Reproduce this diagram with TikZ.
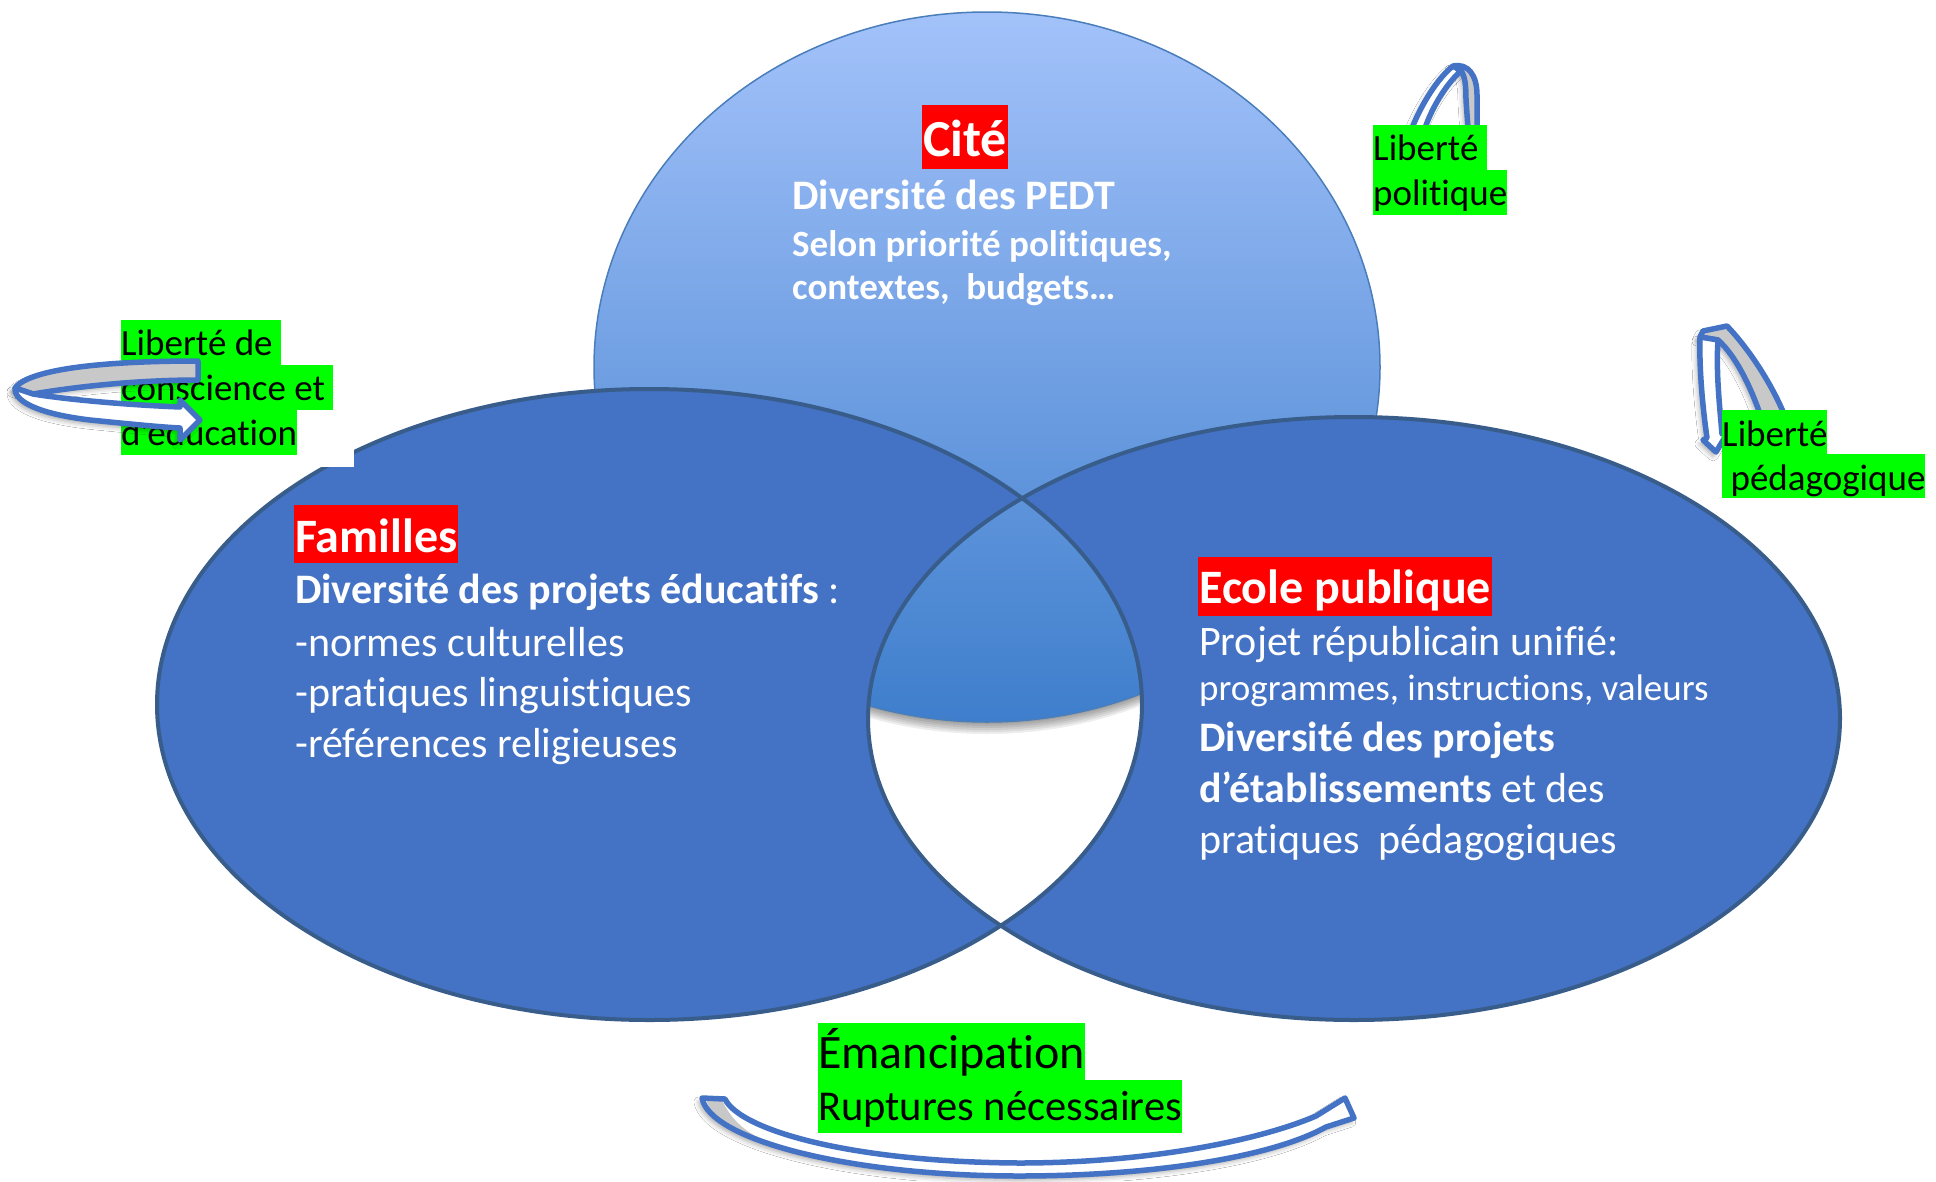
\documentclass[tikz,border=0pt]{standalone}
\usepackage{fontspec}
\setmainfont{Carlito}[Ligatures=NoCommon]
\usetikzlibrary{shadows.blur}
\definecolor{ellfill}{RGB}{68,114,196}
\definecolor{ellline}{RGB}{56,93,138}
\definecolor{citetop}{RGB}{163,194,250}
\definecolor{citebot}{RGB}{62,126,204}
\definecolor{citeline}{RGB}{74,126,187}
\definecolor{arrowblue}{RGB}{68,114,196}
\definecolor{bandgrey}{RGB}{200,200,200}
\definecolor{labgreen}{RGB}{0,255,0}
\definecolor{labred}{RGB}{255,0,0}
\newcommand\setfs[1]{\fontsize{#1pt}{#1pt}\selectfont}
\tikzset{
  ellstroke/.style={draw=ellline, line width=4pt},
  wtxt/.style={text=white, inner sep=0pt, anchor=base west},
  redlab/.style={fill=labred, text=white, inner xsep=1pt, inner ysep=0pt, anchor=base west},
  greenlab/.style={fill=labgreen, text=black, inner sep=0pt, anchor=base west, font=\setfs{37}},
  band/.style={draw=arrowblue, line width=5.5pt, line join=round},
  whiteband/.style={band, fill=white},
  greyband/.style={band, fill=bandgrey},
  bshadow/.style={blur shadow={shadow xshift=-3pt, shadow yshift=-4pt, shadow blur radius=5pt, shadow opacity=35}}
}
\begin{document}
\begin{tikzpicture}[x=1pt,y=-1pt]
\fill[white] (0,0) rectangle (1936,1181);
\useasboundingbox (0,0) rectangle (1936,1181);

% shadow of the Cite ellipse, seen only in the lens
\begin{scope}
  \clip (649.5,704.5) ellipse [x radius=492.5, y radius=315.5];
  \clip (1354,718.5) ellipse [x radius=486, y radius=301.5];
  \foreach \d in {2,4,...,12}
    \fill[black, opacity=0.07] (987,367+\d) ellipse [x radius=393, y radius=355];
\end{scope}

% Cite ellipse
\shade[top color=citetop, bottom color=citebot, draw=citeline, line width=1.5pt]
  (987,367) ellipse [x radius=393, y radius=355];

% lower ellipses, lens left open
\fill[ellfill, even odd rule]
  (649.5,704.5) ellipse [x radius=492.5, y radius=315.5]
  (1354,718.5) ellipse [x radius=486, y radius=301.5];
\draw[ellstroke] (649.5,704.5) ellipse [x radius=492.5, y radius=315.5];
\draw[ellstroke] (1354,718.5) ellipse [x radius=486, y radius=301.5];

% white text box behind first label
\fill[white] (112,316) rectangle (354,467);

% Cite texts
\node[redlab, text height=51pt, text depth=13pt, font=\setfs{52}\bfseries] (citet) at (922,156) {Cité};
\node[wtxt, font=\setfs{42}\bfseries] (cite1) at (792,209) {Diversité des PEDT};
\node[wtxt, font=\setfs{37}\bfseries] (cite2) at (792,256) {Selon priorité politiques,};
\node[wtxt, font=\setfs{37}\bfseries] (cite3) at (792,299) {contextes,\ \ budgets…};

% Familles texts
\node[redlab, text height=47pt, text depth=11pt, font=\setfs{48}\bfseries] (famt) at (294,552) {Familles};
\node[wtxt, font=\setfs{42}] (fam1) at (295,603) {{\bfseries Diversité des projets éducatifs} :};
\node[wtxt, font=\setfs{42}] (fam2) at (295,656) {-normes culturelles};
\node[wtxt, font=\setfs{42}] (fam3) at (295,706) {-pratiques linguistiques};
\node[wtxt, font=\setfs{42}] (fam4) at (295,757) {-références religieuses};

% Ecole texts
\node[redlab, text height=46pt, text depth=13pt, font=\setfs{48}\bfseries] (ecot) at (1198,603) {Ecole publique};
\node[wtxt, font=\setfs{42}] (eco1) at (1199,655) {Projet républicain unifié:};
\node[wtxt, font=\setfs{37}] (eco2) at (1199,700) {programmes, instructions, valeurs};
\node[wtxt, font=\setfs{42}\bfseries] (eco3) at (1199,751) {Diversité des projets};
\node[wtxt, font=\setfs{42}] (eco4) at (1199,802) {{\bfseries d’établissements} et des};
\node[wtxt, font=\setfs{42}] (eco5) at (1199,853) {pratiques\ \ pédagogiques};

% label 1 and its loop arrow
\node[greenlab, text height=35pt, text depth=10pt] (lc1) at (121,355) {Liberté de\ \null};
\node[greenlab, text height=35pt, text depth=10pt] (lc2) at (121,400) {conscience et\ \null};
\node[greenlab, text height=35pt, text depth=10pt] (lc3) at (121,445) {d’éducation};
\path[bshadow] (198,361) .. controls (110,361) and (30,368) .. (15,388) -- (33,394) .. controls (80,386) and (140,380) .. (198,380) -- cycle;
\path[bshadow] (15,388) .. controls (14,402) and (40,414) .. (90,420) .. controls (130,424) and (160,427) .. (180,428) -- (180,440) -- (200,420) -- (180,400) -- (180,407) .. controls (130,405) and (70,400) .. (33,394) -- cycle;
\draw[greyband] (198,361) .. controls (110,361) and (30,368) .. (15,388) -- (33,394) .. controls (80,386) and (140,380) .. (198,380) -- cycle;
\draw[whiteband] (15,388) .. controls (14,402) and (40,414) .. (90,420) .. controls (130,424) and (160,427) .. (180,428) -- (180,440) -- (200,420) -- (180,400) -- (180,407) .. controls (130,405) and (70,400) .. (33,394) -- cycle;

% top arrow and label 2
\path[bshadow] (1453,66) .. controls (1468,63) and (1477,75) .. (1477,95) -- (1477,128) -- (1468,128) -- (1466,100) .. controls (1466,85) and (1465,76) .. (1461,71) -- cycle;
\path[bshadow] (1412,128) .. controls (1422,103) and (1438,78) .. (1453,66) -- (1461,71) .. controls (1448,82) and (1433,105) .. (1425,128) -- cycle;
\draw[greyband] (1453,66) .. controls (1468,63) and (1477,75) .. (1477,95) -- (1477,128) -- (1468,128) -- (1466,100) .. controls (1466,85) and (1465,76) .. (1461,71) -- cycle;
\draw[whiteband] (1412,128) .. controls (1422,103) and (1438,78) .. (1453,66) -- (1461,71) .. controls (1448,82) and (1433,105) .. (1425,128) -- cycle;
\node[greenlab, text height=35pt, text depth=10pt] (lp1) at (1373,160) {Liberté\ \null};
\node[greenlab, text height=35pt, text depth=10pt] (lp2) at (1373,205) {politique};

% right arrow and label 3
\path[bshadow] (1703,331) -- (1727,326) .. controls (1750,350) and (1772,385) .. (1784,414) -- (1760,414) .. controls (1750,385) and (1735,355) .. (1718,340) -- (1700,337) -- cycle;
\path[bshadow] (1700,337) .. controls (1699,370) and (1703,410) .. (1707,438) -- (1703,440) -- (1716,452) -- (1728,432) -- (1722,434) .. controls (1719,400) and (1716,370) .. (1718,340) -- cycle;
\draw[greyband] (1703,331) -- (1727,326) .. controls (1750,350) and (1772,385) .. (1784,414) -- (1760,414) .. controls (1750,385) and (1735,355) .. (1718,340) -- (1700,337) -- cycle;
\draw[whiteband] (1700,337) .. controls (1699,370) and (1703,410) .. (1707,438) -- (1703,440) -- (1716,452) -- (1728,432) -- (1722,434) .. controls (1719,400) and (1716,370) .. (1718,340) -- cycle;
\node[greenlab, text height=36pt, text depth=8pt] (lg1) at (1722,446) {Liberté};
\node[greenlab, text height=36pt, text depth=8pt] (lg2) at (1722,490) {\ pédagogique};

% bottom arrow
\path[bshadow] (702,1098) -- (725,1099) .. controls (740,1130) and (850,1162) .. (1019,1163) .. controls (1150,1163) and (1260,1140) .. (1316,1116) -- (1345,1098) -- (1354,1118) -- (1326,1127) .. controls (1270,1158) and (1150,1176) .. (1019,1176) .. controls (850,1176) and (710,1140) .. (702,1098) -- cycle;
\fill[white] (702,1098) -- (725,1099) .. controls (740,1130) and (850,1162) .. (1019,1163) .. controls (1150,1163) and (1260,1140) .. (1316,1116) -- (1345,1098) -- (1354,1118) -- (1326,1127) .. controls (1270,1158) and (1150,1176) .. (1019,1176) .. controls (850,1176) and (710,1140) .. (702,1098) -- cycle;
\fill[bandgrey] (706,1100) -- (722,1100) .. controls (732,1122) and (748,1134) .. (772,1144) .. controls (745,1138) and (715,1125) .. (706,1100) -- cycle;
\draw[band] (702,1098) -- (725,1099) .. controls (740,1130) and (850,1162) .. (1019,1163) .. controls (1150,1163) and (1260,1140) .. (1316,1116) -- (1345,1098) -- (1354,1118) -- (1326,1127) .. controls (1270,1158) and (1150,1176) .. (1019,1176) .. controls (850,1176) and (710,1140) .. (702,1098) -- cycle;

% label 4
\node[greenlab, text height=45pt, text depth=12pt, font=\setfs{48}] (em1) at (818,1068) {Émancipation};
\node[greenlab, text height=40pt, text depth=13pt, font=\setfs{42.5}] (em2) at (818,1120) {Ruptures nécessaires};
\end{tikzpicture}
\end{document}
